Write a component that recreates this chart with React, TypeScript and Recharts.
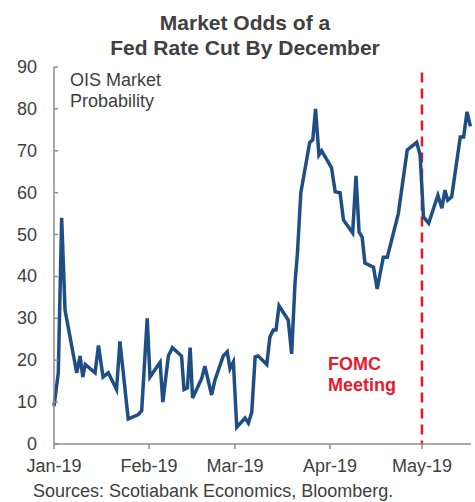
import React from "react";
import { LineChart, Line, XAxis, YAxis, ReferenceLine } from "recharts";

// days since Jan 1, 2019
const days = [
  0, 1.4, 2.5, 3.6, 7.4, 8.5, 9.4, 10.2, 13.4, 14.5, 16, 17.7, 20.4, 21.5,
  24.2, 27.5, 28.6, 30.4, 31.3, 34.6, 35.5, 37.3, 38.6, 41.6, 42.4, 43.5,
  44.4, 45.2, 48.2, 49.2, 51.4, 52.5, 55.2, 56.5, 57.4, 58.5, 59.6, 62.3,
  63.4, 64.5, 65.6, 66.6, 69.4, 70.4, 71.5, 72.4, 73.4, 76.4, 77.5, 78.6,
  79.4, 80.5, 83.4, 84.4, 85.3, 86.4, 87.3, 90.5, 91.7, 93.3, 94.4, 97.4,
  98.5, 99.5, 100.5, 101.4, 104.2, 105.4, 107.4, 108.7, 112.3, 115.2, 118.3,
  119.4, 120.5, 122.2, 125.2, 126.5, 127.5, 128.4, 129.7, 132.5, 133.6,
  134.7, 135.8,
];

// OIS market probability (%)
const odds = [
  9, 17, 54, 32, 17, 21, 16, 19, 17, 23.5, 16, 17, 13, 24.5, 6, 7, 8, 30,
  16, 19.5, 10, 21, 23, 21, 13, 13.4, 23, 11, 15.7, 18.6, 11.7, 15.3, 21, 22,
  18, 19.6, 4, 6.2, 5, 7.6, 20.8, 21, 19, 25.5, 27.2, 27.2, 33, 29.6, 21.5,
  38.4, 45.6, 60, 72, 72.6, 80, 69, 70, 66, 60.2, 60, 53.5, 50.4, 64, 50.6,
  49.4, 43.2, 42.2, 37, 44.6, 44.6, 55, 70.2, 72, 69, 54.2, 52.7, 59.4, 56.3,
  60.6, 58.2, 59, 73.3, 73.3, 79.3, 75.8,
];

const monthTicks = [0, 31, 59, 90, 120];
const monthLabels = ["Jan-19", "Feb-19", "Mar-19", "Apr-19", "May-19"];
const yTicks = [0, 10, 20, 30, 40, 50, 60, 70, 80, 90];
const fomcDay = 120;
const fomcTop = 88.7;

const data = days.map((d, i) => ({ day: d, odds: odds[i] }));

const FONT = "'Liberation Sans', Arial, sans-serif";
const TEXT = "#404040";
const AXIS = "#8c8c8c";

const YTick = (props: any) => {
  const { x, y, payload } = props;
  return (
    <g>
      <line x1={x} x2={x + 4} y1={y} y2={y} stroke={AXIS} strokeWidth={1.5} />
      <text
        x={x - 17}
        y={y + 6}
        textAnchor="end"
        fontSize={18}
        fill={TEXT}
        fontFamily={FONT}
      >
        {payload.value}
      </text>
    </g>
  );
};

export default function App() {
  return (
    <div
      style={{
        position: "absolute",
        left: 0,
        top: 0,
        width: 475,
        height: 502,
        background: "#fff",
        fontFamily: FONT,
      }}
    >
      <LineChart
        width={475}
        height={502}
        data={data}
        margin={{ top: 67, right: 4, bottom: 28, left: 0 }}
      >
        <XAxis
          dataKey="day"
          type="number"
          domain={[0, 136]}
          ticks={monthTicks}
          tickFormatter={(v: number) => monthLabels[monthTicks.indexOf(v)]}
          height={30}
          tickSize={5}
          tickMargin={10}
          interval={0}
          stroke={AXIS}
          strokeWidth={1.5}
          tick={{ fontSize: 18, fill: TEXT, fontFamily: FONT }}
        />
        <YAxis
          type="number"
          domain={[0, 90]}
          ticks={yTicks}
          width={54}
          tickSize={0}
          tickMargin={0}
          tickLine={false}
          interval={0}
          stroke={AXIS}
          strokeWidth={1.5}
          tick={<YTick />}
        />
        <ReferenceLine
          segment={[
            { x: fomcDay, y: fomcTop },
            { x: fomcDay, y: 0 },
          ]}
          stroke="#e8192c"
          strokeWidth={2.5}
          strokeDasharray="10 6"
        />
        <Line
          type="linear"
          dataKey="odds"
          stroke="#1f4e85"
          strokeWidth={3.5}
          dot={false}
          isAnimationActive={false}
        />
      </LineChart>
      <svg
        width={475}
        height={502}
        style={{ position: "absolute", left: 0, top: 0, pointerEvents: "none" }}
      >
        <g fontFamily={FONT}>
          <text x={245} y={30} textAnchor="middle" fontSize={21} fontWeight="bold" fill={TEXT}>
            Market Odds of a
          </text>
          <text x={245} y={55} textAnchor="middle" fontSize={21} fontWeight="bold" fill={TEXT}>
            Fed Rate Cut By December
          </text>
          <text x={70} y={86} fontSize={18} fill={TEXT}>
            OIS Market
          </text>
          <text x={70} y={107} fontSize={18} fill={TEXT}>
            Probability
          </text>
          <text x={328} y={370} fontSize={18} fontWeight="bold" fill="#e8192c">
            FOMC
          </text>
          <text x={328} y={391} fontSize={18} fontWeight="bold" fill="#e8192c">
            Meeting
          </text>
          <text x={33} y={497} fontSize={18} fill={TEXT}>
            Sources: Scotiabank Economics, Bloomberg.
          </text>
        </g>
      </svg>
    </div>
  );
}
